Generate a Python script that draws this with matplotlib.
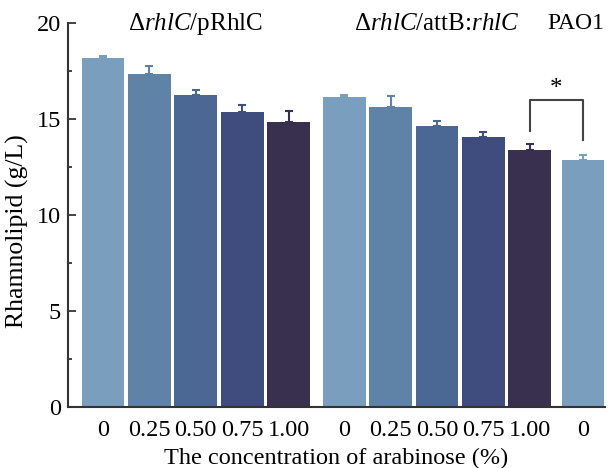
import matplotlib
matplotlib.use("Agg")
import matplotlib.pyplot as plt
from matplotlib.ticker import MultipleLocator

plt.rcParams['font.family'] = ['Liberation Serif', 'DejaVu Serif']
plt.rcParams['mathtext.fontset'] = 'custom'
plt.rcParams['mathtext.rm'] = 'Liberation Serif'
plt.rcParams['mathtext.it'] = 'Liberation Serif:italic'

# Data
tick_labels = ["0", "0.25", "0.50", "0.75", "1.00", "0", "0.25", "0.50", "0.75", "1.00", "0"]
values = [18.2, 17.35, 16.25, 15.35, 14.85, 16.15, 15.6, 14.65, 14.05, 13.4, 12.85]
errors = [0.08, 0.42, 0.28, 0.38, 0.59, 0.12, 0.59, 0.26, 0.26, 0.29, 0.25]
positions = [0, 1, 2, 3, 4, 5.2, 6.2, 7.2, 8.2, 9.2, 10.35]
group_labels = [r"Δ$\mathit{rhlC}$/pRhlC", r"Δ$\mathit{rhlC}$/attB:$\mathit{rhlC}$"]
group_centers = [2, 7.2]
pao1_label = "PAO1"

shades = ["#7A9EBE", "#5F83A7", "#4B6895", "#3F4D7E", "#393050"]
colors = shades + shades + [shades[0]]

fig = plt.figure(figsize=(6.08, 4.68), dpi=100)
ax = fig.add_axes([0.1118, 0.1303, 0.8832, 0.8206])

for x, v, e, c in zip(positions, values, errors, colors):
    ax.bar(x, v, width=0.92, color=c, edgecolor='none', zorder=2)
    ax.errorbar(x, v, yerr=[[0], [e]], color=c, capsize=3, capthick=1.5,
                elinewidth=1.5, zorder=3)

ax.set_xlim(-0.755, 10.82)
ax.set_ylim(0, 20)
ax.set_xticks(positions)
ax.set_xticklabels(tick_labels, fontsize=17.5)
ax.tick_params(axis='x', length=0, pad=9)
ax.yaxis.set_major_locator(MultipleLocator(5))
ax.yaxis.set_minor_locator(MultipleLocator(2.5))
ax.tick_params(axis='y', which='major', direction='in', length=6, width=1.3,
               color='#333333', labelsize=17.5, pad=5)
ax.tick_params(axis='y', which='minor', direction='in', length=3, width=1.3,
               color='#333333')

for s in ['top', 'right']:
    ax.spines[s].set_visible(False)
for s in ['left', 'bottom']:
    ax.spines[s].set_color('#333333')
    ax.spines[s].set_linewidth(1.5)

ax.set_ylabel("Rhamnolipid (g/L)", fontsize=18.5)
ax.yaxis.set_label_coords(-0.072, 0.458)
ax.set_xlabel("The concentration of arabinose (%)", fontsize=17.5, labelpad=5)

for gx, gl in zip(group_centers, group_labels):
    ax.text(gx, 19.95, gl, ha='center', va='center', fontsize=18)
ax.text(0.998, 19.95, pao1_label, transform=ax.get_yaxis_transform(),
        ha='right', va='center', fontsize=17)

# significance bracket
b_left, b_right = positions[9], positions[10]
ax.plot([b_left, b_left, b_right, b_right], [14.35, 16.0, 16.0, 13.9],
        color='#444444', lw=1.5, zorder=4)
ax.text((b_left + b_right) / 2, 16.55, "*", ha='center', va='center', fontsize=18)

fig.savefig("out.png", dpi=100)
